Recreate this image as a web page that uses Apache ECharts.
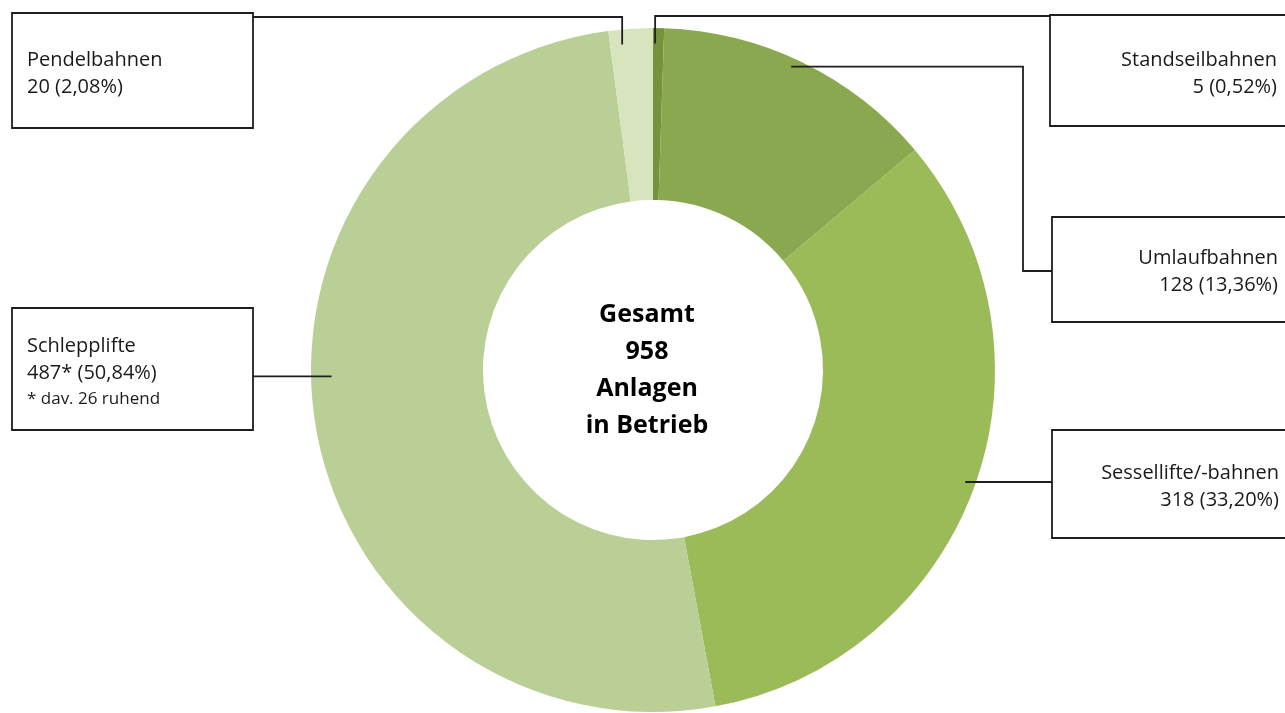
<!DOCTYPE html>
<html>
<head>
<meta charset="utf-8">
<script src="https://cdn.jsdelivr.net/npm/echarts@6/dist/echarts.min.js"></script>
<style>
html,body{margin:0;padding:0;background:#fff;}
#chart{width:1285px;height:713px;}
</style>
</head>
<body>
<div id="chart"></div>
<script>
// ---- data ----
const categories = ['Standseilbahnen', 'Umlaufbahnen', 'Sessellifte/-bahnen', 'Schlepplifte', 'Pendelbahnen'];
const counts = [5, 128, 318, 487, 20];
const countLabels = ['5', '128', '318', '487*', '20'];
const percentLabels = ['0,52%', '13,36%', '33,20%', '50,84%', '2,08%'];
const notes = ['', '', '', '* dav. 26 ruhend', ''];
const centerLines = ['Gesamt', '958', 'Anlagen', 'in Betrieb'];

// ---- styles / layout ----
const colors = ['#76923c', '#8aa84f', '#9bbb59', '#b9cf96', '#d7e4bd'];
const FONT = '"Open Sans", "Liberation Sans", sans-serif';
const LINE = '#1e1e1e';
// box rect, text anchor, leader-line anchor (fraction within slice t, radius fraction rf), route
const boxes = [
  {rect:[1050, 15, 260, 111], tx:1277, ty:74, align:'right', t:0.2, rf:0.955, route:'up', ly:16, bx:1050},
  {rect:[1052, 217, 260, 105], tx:1278, ty:272, align:'right', t:0.47, rf:0.975, route:'elbow', ex:1023, ly:271, bx:1052},
  {rect:[1052, 430, 260, 108], tx:1279, ty:487, align:'right', t:0.5, rf:0.97, route:'flat', bx:1052},
  {rect:[12, 308, 241, 122], tx:27, ty:372, align:'left', t:0.543, rf:0.94, route:'flat', bx:253},
  {rect:[12, 13, 241, 115], tx:27, ty:74, align:'left', t:0.28, rf:0.956, route:'up', ly:17, bx:253}
];

const chart = echarts.init(document.getElementById('chart'), null, {renderer:'canvas'});
chart.setOption({
  animation: false,
  backgroundColor: '#ffffff',
  series: [{
    type: 'pie',
    center: [653, 370],
    radius: [170, 342],
    startAngle: 90,
    clockwise: true,
    avoidLabelOverlap: false,
    label: {show: false},
    labelLine: {show: false},
    emphasis: {disabled: true},
    itemStyle: {borderWidth: 0},
    data: categories.map((c, i) => ({name: c, value: counts[i], itemStyle: {color: colors[i]}}))
  }]
});

// leader lines, boxes and texts anchored on the library's own slice layout
const data = chart.getModel().getSeriesByIndex(0).getData();
const lines = [], rects = [], texts = [];
categories.forEach((c, i) => {
  const L = data.getItemLayout(i);
  const b = boxes[i];
  const a = L.startAngle + (L.endAngle - L.startAngle) * b.t;
  const r = L.r * b.rf;
  const ax = L.cx + r * Math.cos(a);
  const ay = L.cy + r * Math.sin(a);
  let pts;
  if (b.route === 'up') pts = [[ax, ay], [ax, b.ly], [b.bx, b.ly]];
  else if (b.route === 'elbow') pts = [[ax, ay], [b.ex, ay], [b.ex, b.ly], [b.bx, b.ly]];
  else pts = [[ax, ay], [b.bx, ay]];
  lines.push({type:'polyline', z:100, silent:true, shape:{points:pts}, style:{stroke:LINE, lineWidth:1.8, fill:null}});
  rects.push({type:'rect', z:101, silent:true, shape:{x:b.rect[0], y:b.rect[1], width:b.rect[2], height:b.rect[3]},
    style:{fill:'#ffffff', stroke:LINE, lineWidth:1.8}});
  let txt = '{a|' + c + '}\n{a|' + countLabels[i] + ' (' + percentLabels[i] + ')}';
  if (notes[i]) txt += '\n{b|' + notes[i] + '}';
  texts.push({type:'text', z:102, silent:true, x:b.tx, y:b.ty,
    style:{text:txt, textAlign:b.align, textVerticalAlign:'middle', fill:'#1a1a1a',
      rich:{
        a:{fontFamily:FONT, fontSize:20, lineHeight:27, fill:'#1a1a1a', align:b.align},
        b:{fontFamily:FONT, fontSize:17, lineHeight:24, fill:'#1a1a1a', align:b.align}
      }}});
});
texts.push({type:'text', z:102, silent:true, x:647, y:370,
  style:{text:centerLines.join('\n'), textAlign:'center', textVerticalAlign:'middle',
    fontFamily:FONT, fontSize:25, fontWeight:'bold', lineHeight:37, fill:'#000'}});

chart.setOption({graphic: {elements: lines.concat(rects, texts)}});
</script>
</body>
</html>
